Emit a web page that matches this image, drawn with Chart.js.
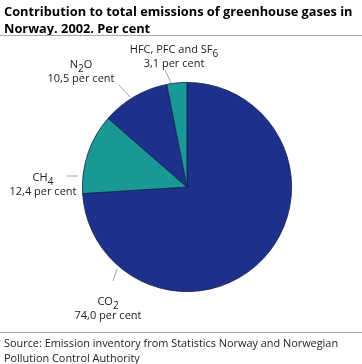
<!DOCTYPE html>
<html>
<head>
<meta charset="utf-8">
<script src="https://cdn.jsdelivr.net/npm/chart.js@4.4.0/dist/chart.umd.min.js"></script>
<style>
html,body{margin:0;padding:0;background:#fff;}
#wrap{width:362px;height:364px;position:relative;}
</style>
</head>
<body>
<div id="wrap"><canvas id="c" width="362" height="364"></canvas></div>
<script>
// ---- data ----
const categories = ["CO2", "CH4", "N2O", "HFC, PFC and SF6"];
const labelParts = [
  [["CO"], ["2", "sub"]],
  [["CH"], ["4", "sub"]],
  [["N"], ["2", "sub"], ["O"]],
  [["HFC, PFC and SF"], ["6", "sub"]]
];
const values = [74.0, 12.4, 10.5, 3.1];
const titleLines = ["Contribution to total emissions of greenhouse gases in", "Norway. 2002. Per cent"];
const sourceLines = ["Source: Emission inventory from Statistics Norway and Norwegian", "Pollution Control Authority"];

const colors = ["#1c318a", "#1a9896", "#1c318a", "#1a9896"];

// label layout (offsets from pie centre)
const labelLayout = [
  {tx: -79, ty: 115, l1: [-74, 94], l2: [-70, 82]},
  {tx: -144, ty: -9, l1: [-120, -11], l2: [-109, -11]},
  {tx: -106, ty: -122, l1: [-68, -102], l2: [-57, -90]},
  {tx: -13, ty: -137, l1: [-22, -117], l2: [-16, -104]}
];

const FONT = '"Open Sans", "Noto Sans", sans-serif';

function richWidth(ctx, parts, size) {
  let w = 0;
  parts.forEach(p => {
    ctx.font = (p[1] === "sub" ? (size - 1) : size) + "px " + FONT;
    w += ctx.measureText(p[0]).width;
  });
  return w;
}
function drawRich(ctx, parts, cx, cy, size) {
  const w = richWidth(ctx, parts, size);
  let x = cx - w / 2;
  ctx.textAlign = "left";
  ctx.textBaseline = "middle";
  parts.forEach(p => {
    const sub = p[1] === "sub";
    ctx.font = (sub ? (size - 1) : size) + "px " + FONT;
    ctx.fillText(p[0], x, cy + (sub ? 4 : 0));
    x += ctx.measureText(p[0]).width;
  });
}

const decor = {
  id: "decor",
  afterDraw(chart) {
    const ctx = chart.ctx;
    ctx.save();
    // title
    ctx.fillStyle = "#000";
    ctx.font = "bold 12.8px " + FONT;
    ctx.textAlign = "left";
    ctx.textBaseline = "middle";
    titleLines.forEach((t, i) => ctx.fillText(t, 4, 12 + i * 17));
    // separators
    ctx.strokeStyle = "#a8a8a8";
    ctx.lineWidth = 1;
    ctx.beginPath();
    ctx.moveTo(0, 35.5); ctx.lineTo(362, 35.5);
    ctx.moveTo(0, 332.5); ctx.lineTo(362, 332.5);
    ctx.stroke();
    // source
    ctx.fillStyle = "#222";
    ctx.font = "10.9px " + FONT;
    sourceLines.forEach((t, i) => ctx.fillText(t, 4, 344 + i * 15));
    // slice labels
    const meta = chart.getDatasetMeta(0);
    const arc0 = meta.data[0];
    const cx = arc0.x, cy = arc0.y;
    meta.data.forEach((arc, i) => {
      const L = labelLayout[i];
      ctx.strokeStyle = "#8a8a8a";
      ctx.lineWidth = 0.8;
      ctx.beginPath();
      ctx.moveTo(cx + L.l1[0], cy + L.l1[1]);
      ctx.lineTo(cx + L.l2[0], cy + L.l2[1]);
      ctx.stroke();
      ctx.fillStyle = "#222";
      drawRich(ctx, labelParts[i], cx + L.tx, cy + L.ty, 11);
      const vt = values[i].toFixed(1).replace(".", ",") + " per cent";
      drawRich(ctx, [[vt]], cx + L.tx, cy + L.ty + 14, 11);
    });
    ctx.restore();
  }
};

new Chart(document.getElementById("c"), {
  type: "pie",
  data: {
    labels: categories,
    datasets: [{
      data: values,
      backgroundColor: colors,
      borderColor: "#15204a",
      borderWidth: 0.8
    }]
  },
  options: {
    responsive: false,
    animation: false,
    events: [],
    layout: {padding: {left: 82, right: 70, top: 82, bottom: 72}},
    plugins: {legend: {display: false}, tooltip: {enabled: false}, title: {display: false}}
  },
  plugins: [decor]
});
</script>
</body>
</html>
